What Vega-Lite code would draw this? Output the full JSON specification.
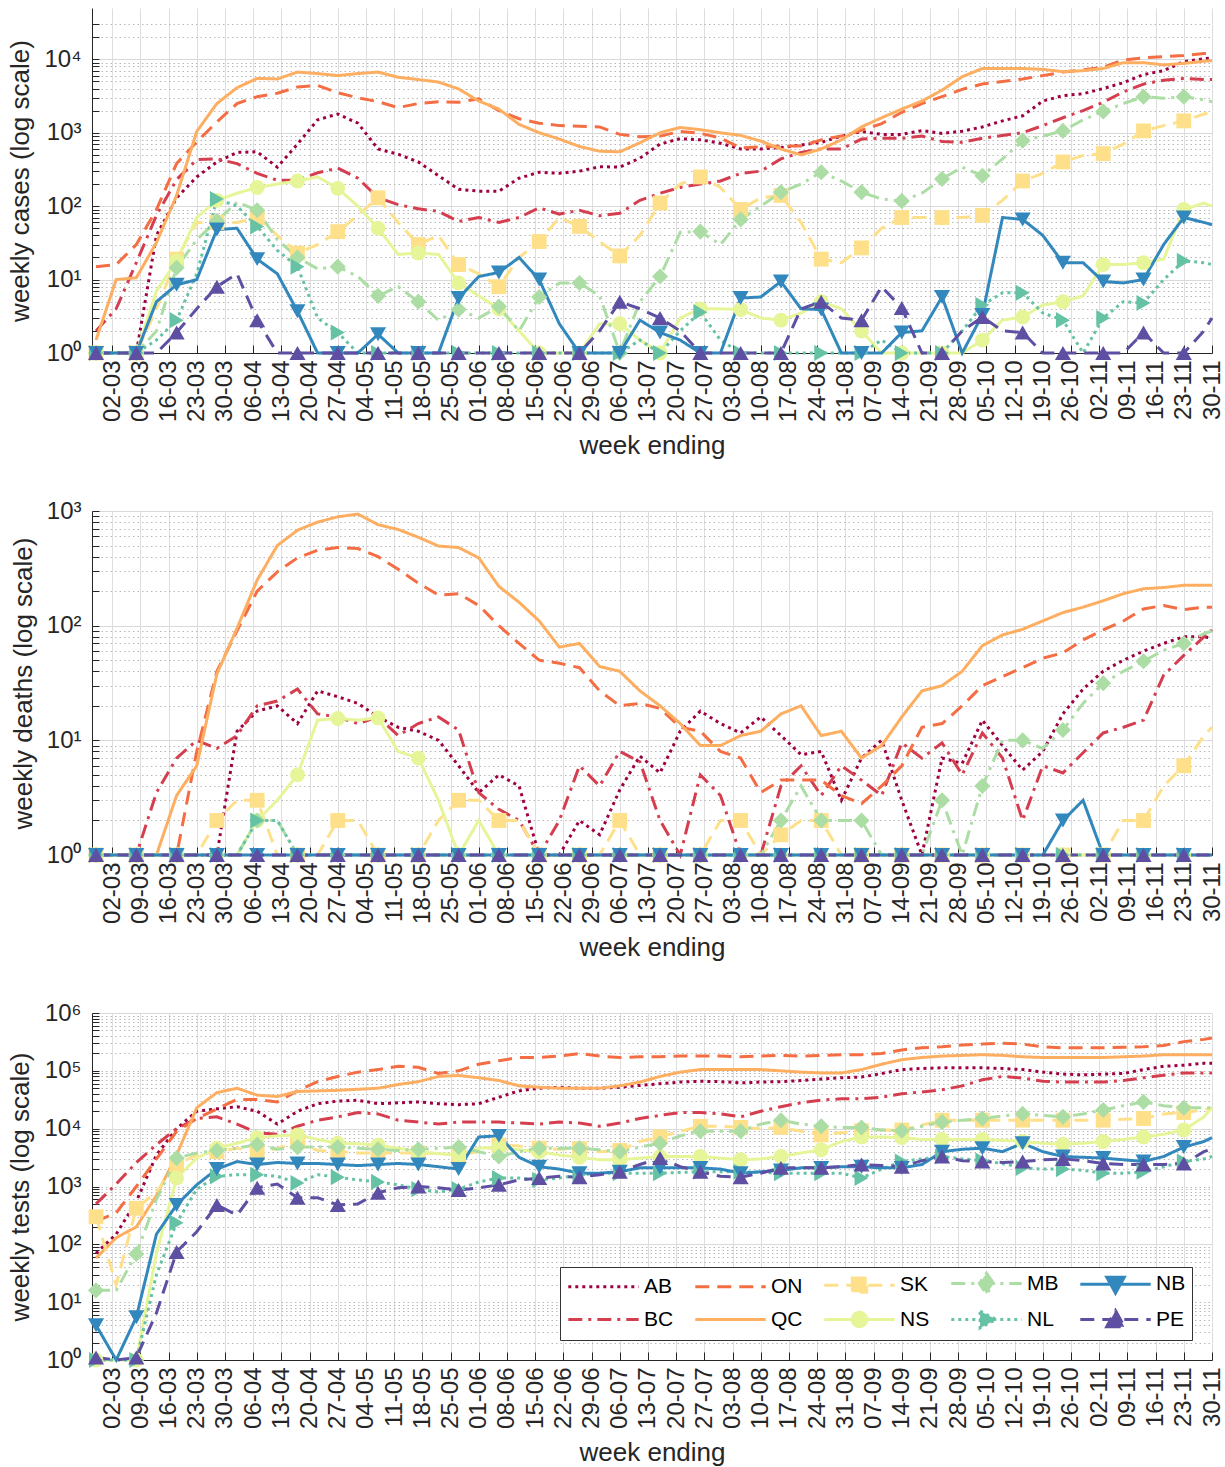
{
"$schema": "https://vega.github.io/schema/vega-lite/v6.json",
"padding": {"left": 7, "top": 8, "right": 6, "bottom": 4},
"spacing": 40,
"config": {
 "font": "Liberation Sans",
 "view": {"stroke": null},
 "axis": {"labelFont": "Liberation Sans", "titleFont": "Liberation Sans", "labelFontSize": 24, "titleFontSize": 26, "titleFontWeight": "normal", "labelColor": "#262626", "titleColor": "#262626", "domainColor": "#262626", "tickColor": "#262626", "domainWidth": 1, "tickWidth": 1, "grid": true}
},
"resolve": {"scale": {"color": "independent", "strokeDash": "independent", "shape": "independent"}, "legend": {"color": "independent", "strokeDash": "independent", "shape": "independent"}},
"datasets": {
"cases": [
{"d":"2020-02-27","AB":1,"BC":2,"ON":15,"QC":1.5,"SK":1,"NS":1,"MB":1,"NL":1,"NB":1,"PE":1},
{"d":"2020-03-03","AB":1,"BC":4,"ON":16,"QC":10,"SK":1,"NS":1,"MB":1,"NL":1,"NB":1,"PE":1},
{"d":"2020-03-08","AB":1,"BC":17,"ON":30,"QC":10.6,"SK":1,"NS":1,"MB":1,"NL":1,"NB":1,"PE":1},
{"d":"2020-03-13","AB":40,"BC":75,"ON":90,"QC":32,"SK":4,"NS":7,"MB":2,"NL":1.5,"NB":5,"PE":1},
{"d":"2020-03-18","AB":130,"BC":230,"ON":380,"QC":140,"SK":19,"NS":18,"MB":14.5,"NL":2.8,"NB":8.5,"PE":1.9},
{"d":"2020-03-23","AB":250,"BC":430,"ON":750,"QC":1040,"SK":60,"NS":70,"MB":35,"NL":12,"NB":10,"PE":4},
{"d":"2020-03-28","AB":400,"BC":440,"ON":1400,"QC":2500,"SK":60,"NS":120,"MB":63,"NL":125,"NB":48,"PE":8},
{"d":"2020-04-02","AB":540,"BC":380,"ON":2500,"QC":4100,"SK":60,"NS":150,"MB":113,"NL":100,"NB":50,"PE":12},
{"d":"2020-04-07","AB":550,"BC":280,"ON":3100,"QC":5500,"SK":70,"NS":180,"MB":88,"NL":53,"NB":19,"PE":2.8},
{"d":"2020-04-12","AB":340,"BC":225,"ON":3450,"QC":5400,"SK":40,"NS":200,"MB":35,"NL":25,"NB":12,"PE":1},
{"d":"2020-04-17","AB":700,"BC":225,"ON":4200,"QC":6700,"SK":23,"NS":220,"MB":20,"NL":15,"NB":3.7,"PE":1},
{"d":"2020-04-22","AB":1500,"BC":285,"ON":4400,"QC":6400,"SK":30,"NS":250,"MB":14,"NL":3,"NB":1,"PE":1},
{"d":"2020-04-27","AB":1800,"BC":330,"ON":3500,"QC":6000,"SK":45,"NS":175,"MB":15,"NL":1.9,"NB":1,"PE":1},
{"d":"2020-05-02","AB":1350,"BC":240,"ON":3000,"QC":6400,"SK":75,"NS":100,"MB":11,"NL":1,"NB":1,"PE":1},
{"d":"2020-05-07","AB":600,"BC":130,"ON":2650,"QC":6700,"SK":130,"NS":50,"MB":6,"NL":1,"NB":1.8,"PE":1},
{"d":"2020-05-12","AB":510,"BC":105,"ON":2200,"QC":5700,"SK":60,"NS":22,"MB":8,"NL":1,"NB":1,"PE":1},
{"d":"2020-05-17","AB":400,"BC":92,"ON":2500,"QC":5300,"SK":30,"NS":23,"MB":5,"NL":1,"NB":1,"PE":1},
{"d":"2020-05-22","AB":260,"BC":85,"ON":2650,"QC":4900,"SK":40,"NS":22,"MB":2.8,"NL":1,"NB":1,"PE":1},
{"d":"2020-05-27","AB":170,"BC":62,"ON":2600,"QC":3950,"SK":16,"NS":9,"MB":3.9,"NL":1,"NB":5.6,"PE":1},
{"d":"2020-06-01","AB":160,"BC":70,"ON":2900,"QC":2700,"SK":12,"NS":6,"MB":3,"NL":1,"NB":11,"PE":1},
{"d":"2020-06-06","AB":160,"BC":60,"ON":2000,"QC":2100,"SK":8,"NS":4,"MB":4.3,"NL":1,"NB":12.5,"PE":1},
{"d":"2020-06-11","AB":240,"BC":70,"ON":1550,"QC":1300,"SK":20,"NS":2,"MB":2,"NL":1,"NB":20,"PE":1},
{"d":"2020-06-16","AB":290,"BC":95,"ON":1350,"QC":1000,"SK":33,"NS":1,"MB":5.8,"NL":1,"NB":10,"PE":1},
{"d":"2020-06-21","AB":280,"BC":78,"ON":1250,"QC":820,"SK":70,"NS":1,"MB":9,"NL":1,"NB":2.5,"PE":1},
{"d":"2020-06-26","AB":300,"BC":88,"ON":1230,"QC":650,"SK":53,"NS":1,"MB":9,"NL":1,"NB":1,"PE":1},
{"d":"2020-07-01","AB":345,"BC":74,"ON":1200,"QC":560,"SK":33,"NS":2.5,"MB":6,"NL":1,"NB":1,"PE":2},
{"d":"2020-07-06","AB":340,"BC":80,"ON":950,"QC":550,"SK":21,"NS":2.5,"MB":1,"NL":1,"NB":1,"PE":5},
{"d":"2020-07-11","AB":450,"BC":120,"ON":880,"QC":730,"SK":40,"NS":1.5,"MB":5,"NL":1.5,"NB":2.8,"PE":4},
{"d":"2020-07-16","AB":700,"BC":150,"ON":900,"QC":1000,"SK":110,"NS":1,"MB":11,"NL":1,"NB":1.9,"PE":3},
{"d":"2020-07-21","AB":830,"BC":180,"ON":1040,"QC":1180,"SK":200,"NS":3,"MB":44,"NL":2,"NB":1.5,"PE":2},
{"d":"2020-07-26","AB":800,"BC":200,"ON":980,"QC":1100,"SK":250,"NS":4,"MB":45,"NL":3.6,"NB":1,"PE":1},
{"d":"2020-07-31","AB":720,"BC":220,"ON":850,"QC":1000,"SK":180,"NS":4,"MB":30,"NL":1.5,"NB":1,"PE":1},
{"d":"2020-08-05","AB":600,"BC":280,"ON":620,"QC":920,"SK":90,"NS":3.9,"MB":66,"NL":1,"NB":5.6,"PE":1},
{"d":"2020-08-10","AB":600,"BC":300,"ON":640,"QC":770,"SK":130,"NS":3,"MB":100,"NL":1,"NB":5.8,"PE":1},
{"d":"2020-08-15","AB":630,"BC":440,"ON":660,"QC":600,"SK":140,"NS":2.8,"MB":155,"NL":1,"NB":9.4,"PE":1},
{"d":"2020-08-20","AB":680,"BC":540,"ON":660,"QC":500,"SK":60,"NS":3.5,"MB":200,"NL":1,"NB":4,"PE":4},
{"d":"2020-08-25","AB":740,"BC":600,"ON":800,"QC":600,"SK":19,"NS":5,"MB":290,"NL":1,"NB":3.9,"PE":5},
{"d":"2020-08-30","AB":900,"BC":600,"ON":900,"QC":800,"SK":17,"NS":4,"MB":220,"NL":1,"NB":1,"PE":3},
{"d":"2020-09-04","AB":1040,"BC":820,"ON":1080,"QC":1200,"SK":27,"NS":2,"MB":155,"NL":1,"NB":1,"PE":2.8},
{"d":"2020-09-09","AB":950,"BC":840,"ON":1330,"QC":1600,"SK":50,"NS":1,"MB":125,"NL":1.5,"NB":1,"PE":8},
{"d":"2020-09-14","AB":950,"BC":840,"ON":1900,"QC":2100,"SK":70,"NS":1,"MB":118,"NL":1,"NB":1.9,"PE":4.1},
{"d":"2020-09-19","AB":1070,"BC":900,"ON":2500,"QC":2700,"SK":70,"NS":1,"MB":150,"NL":1,"NB":2,"PE":1},
{"d":"2020-09-24","AB":980,"BC":760,"ON":3100,"QC":3800,"SK":70,"NS":1,"MB":235,"NL":1,"NB":5.8,"PE":1},
{"d":"2020-09-29","AB":1050,"BC":740,"ON":3900,"QC":5800,"SK":70,"NS":1,"MB":340,"NL":2,"NB":1,"PE":2},
{"d":"2020-10-04","AB":1200,"BC":840,"ON":4600,"QC":7500,"SK":75,"NS":1.5,"MB":260,"NL":4.5,"NB":3.3,"PE":3.1},
{"d":"2020-10-09","AB":1450,"BC":920,"ON":5000,"QC":7500,"SK":120,"NS":2.8,"MB":440,"NL":6.6,"NB":70,"PE":2},
{"d":"2020-10-14","AB":1700,"BC":1000,"ON":5400,"QC":7500,"SK":220,"NS":3.1,"MB":780,"NL":6.6,"NB":66,"PE":1.9},
{"d":"2020-10-19","AB":2700,"BC":1250,"ON":6000,"QC":7300,"SK":280,"NS":4.5,"MB":900,"NL":3.5,"NB":40,"PE":1},
{"d":"2020-10-24","AB":3200,"BC":1600,"ON":6700,"QC":6800,"SK":400,"NS":5,"MB":1060,"NL":2.8,"NB":17,"PE":1},
{"d":"2020-10-29","AB":3400,"BC":2000,"ON":7200,"QC":7000,"SK":490,"NS":6,"MB":1500,"NL":1,"NB":17,"PE":1},
{"d":"2020-11-03","AB":4000,"BC":2600,"ON":7800,"QC":7500,"SK":520,"NS":16,"MB":1950,"NL":3,"NB":9.4,"PE":1},
{"d":"2020-11-08","AB":4800,"BC":3600,"ON":9800,"QC":9000,"SK":700,"NS":16,"MB":2500,"NL":5,"NB":9,"PE":1},
{"d":"2020-11-13","AB":6200,"BC":4600,"ON":10500,"QC":9000,"SK":1060,"NS":17,"MB":3100,"NL":4.8,"NB":10,"PE":1.9},
{"d":"2020-11-18","AB":7000,"BC":5200,"ON":10900,"QC":8400,"SK":1250,"NS":19,"MB":2950,"NL":10,"NB":30,"PE":1},
{"d":"2020-11-23","AB":9300,"BC":5500,"ON":11300,"QC":8800,"SK":1450,"NS":90,"MB":3100,"NL":18,"NB":70,"PE":1},
{"d":"2020-11-28","AB":10200,"BC":5300,"ON":12000,"QC":9400,"SK":1800,"NS":110,"MB":2800,"NL":17,"NB":60,"PE":2},
{"d":"2020-11-30","AB":10500,"BC":5300,"ON":12100,"QC":9600,"SK":1900,"NS":100,"MB":2650,"NL":16,"NB":56,"PE":3}
],
"deaths": [
{"d":"2020-02-27","AB":1,"BC":1,"ON":1,"QC":1,"SK":1,"NS":1,"MB":1,"NL":1,"NB":1,"PE":1},
{"d":"2020-03-03","AB":1,"BC":1,"ON":1,"QC":1,"SK":1,"NS":1,"MB":1,"NL":1,"NB":1,"PE":1},
{"d":"2020-03-08","AB":1,"BC":1,"ON":1,"QC":1,"SK":1,"NS":1,"MB":1,"NL":1,"NB":1,"PE":1},
{"d":"2020-03-13","AB":1,"BC":3.5,"ON":1,"QC":1,"SK":1,"NS":1,"MB":1,"NL":1,"NB":1,"PE":1},
{"d":"2020-03-18","AB":1,"BC":7,"ON":1,"QC":3.3,"SK":1,"NS":1,"MB":1,"NL":1,"NB":1,"PE":1},
{"d":"2020-03-23","AB":1,"BC":10,"ON":8,"QC":6,"SK":1,"NS":1,"MB":1,"NL":1,"NB":1,"PE":1},
{"d":"2020-03-28","AB":1,"BC":8.5,"ON":40,"QC":38,"SK":2,"NS":1,"MB":1,"NL":1,"NB":1,"PE":1},
{"d":"2020-04-02","AB":12,"BC":11,"ON":90,"QC":95,"SK":3,"NS":1,"MB":1,"NL":1,"NB":1,"PE":1},
{"d":"2020-04-07","AB":18,"BC":20,"ON":200,"QC":250,"SK":3,"NS":2,"MB":2,"NL":2,"NB":1,"PE":1},
{"d":"2020-04-12","AB":20,"BC":22,"ON":295,"QC":500,"SK":1,"NS":3,"MB":2,"NL":2,"NB":1,"PE":1},
{"d":"2020-04-17","AB":14,"BC":28,"ON":390,"QC":680,"SK":1,"NS":5,"MB":1,"NL":1,"NB":1,"PE":1},
{"d":"2020-04-22","AB":27,"BC":17,"ON":455,"QC":800,"SK":1,"NS":15,"MB":1,"NL":1,"NB":1,"PE":1},
{"d":"2020-04-27","AB":24,"BC":16,"ON":480,"QC":890,"SK":2,"NS":15.5,"MB":1,"NL":1,"NB":1,"PE":1},
{"d":"2020-05-02","AB":21,"BC":14,"ON":470,"QC":940,"SK":2,"NS":15,"MB":1,"NL":1,"NB":1,"PE":1},
{"d":"2020-05-07","AB":16,"BC":16,"ON":400,"QC":760,"SK":1,"NS":15.7,"MB":1,"NL":1,"NB":1,"PE":1},
{"d":"2020-05-12","AB":13,"BC":11,"ON":310,"QC":690,"SK":1,"NS":8,"MB":1,"NL":1,"NB":1,"PE":1},
{"d":"2020-05-17","AB":12,"BC":14,"ON":235,"QC":590,"SK":1,"NS":7,"MB":1,"NL":1,"NB":1,"PE":1},
{"d":"2020-05-22","AB":10,"BC":16,"ON":185,"QC":495,"SK":2,"NS":3,"MB":1,"NL":1,"NB":1,"PE":1},
{"d":"2020-05-27","AB":6,"BC":12.3,"ON":190,"QC":480,"SK":3,"NS":1,"MB":1,"NL":1,"NB":1,"PE":1},
{"d":"2020-06-01","AB":3.5,"BC":3.5,"ON":150,"QC":390,"SK":3,"NS":2,"MB":1,"NL":1,"NB":1,"PE":1},
{"d":"2020-06-06","AB":5,"BC":2.5,"ON":100,"QC":220,"SK":2,"NS":1,"MB":1,"NL":1,"NB":1,"PE":1},
{"d":"2020-06-11","AB":4,"BC":2,"ON":70,"QC":160,"SK":2,"NS":1,"MB":1,"NL":1,"NB":1,"PE":1},
{"d":"2020-06-16","AB":1,"BC":1,"ON":50,"QC":110,"SK":1,"NS":1,"MB":1,"NL":1,"NB":1,"PE":1},
{"d":"2020-06-21","AB":1,"BC":2,"ON":47,"QC":65,"SK":1,"NS":1,"MB":1,"NL":1,"NB":1,"PE":1},
{"d":"2020-06-26","AB":2,"BC":6,"ON":43,"QC":70,"SK":1,"NS":1,"MB":1,"NL":1,"NB":1,"PE":1},
{"d":"2020-07-01","AB":1.5,"BC":4,"ON":27,"QC":44,"SK":1,"NS":1,"MB":1,"NL":1,"NB":1,"PE":1},
{"d":"2020-07-06","AB":3.7,"BC":8,"ON":20,"QC":40,"SK":2,"NS":1,"MB":1,"NL":1,"NB":1,"PE":1},
{"d":"2020-07-11","AB":7.3,"BC":6.5,"ON":21,"QC":27,"SK":1,"NS":1,"MB":1,"NL":1,"NB":1,"PE":1},
{"d":"2020-07-16","AB":5.2,"BC":2,"ON":19,"QC":20,"SK":1,"NS":1,"MB":1,"NL":1,"NB":1,"PE":1},
{"d":"2020-07-21","AB":12,"BC":1,"ON":13,"QC":14,"SK":1,"NS":1,"MB":1,"NL":1,"NB":1,"PE":1},
{"d":"2020-07-26","AB":18,"BC":5,"ON":12,"QC":9,"SK":1,"NS":1,"MB":1,"NL":1,"NB":1,"PE":1},
{"d":"2020-07-31","AB":14,"BC":3.3,"ON":8,"QC":9,"SK":2,"NS":1,"MB":1,"NL":1,"NB":1,"PE":1},
{"d":"2020-08-05","AB":11.6,"BC":1,"ON":7,"QC":11,"SK":2,"NS":1,"MB":1,"NL":1,"NB":1,"PE":1},
{"d":"2020-08-10","AB":16,"BC":1,"ON":3.5,"QC":12,"SK":1,"NS":1,"MB":1,"NL":1,"NB":1,"PE":1},
{"d":"2020-08-15","AB":11,"BC":4,"ON":4.5,"QC":17,"SK":1.5,"NS":1,"MB":2,"NL":1,"NB":1,"PE":1},
{"d":"2020-08-20","AB":7.5,"BC":6,"ON":4.5,"QC":20,"SK":2,"NS":1,"MB":4,"NL":1,"NB":1,"PE":1},
{"d":"2020-08-25","AB":8,"BC":3.3,"ON":4.5,"QC":11,"SK":2,"NS":1,"MB":2,"NL":1,"NB":1,"PE":1},
{"d":"2020-08-30","AB":3,"BC":6,"ON":3.3,"QC":12,"SK":1,"NS":1,"MB":2,"NL":1,"NB":1,"PE":1},
{"d":"2020-09-04","AB":7,"BC":4.5,"ON":2.8,"QC":7,"SK":1,"NS":1,"MB":2,"NL":1,"NB":1,"PE":1},
{"d":"2020-09-09","AB":10,"BC":3.3,"ON":4,"QC":9,"SK":1,"NS":1,"MB":1,"NL":1,"NB":1,"PE":1},
{"d":"2020-09-14","AB":3,"BC":9.5,"ON":6,"QC":16,"SK":1,"NS":1,"MB":1,"NL":1,"NB":1,"PE":1},
{"d":"2020-09-19","AB":1,"BC":7,"ON":13,"QC":27,"SK":1,"NS":1,"MB":1,"NL":1,"NB":1,"PE":1},
{"d":"2020-09-24","AB":7,"BC":9.5,"ON":14,"QC":30,"SK":1,"NS":1,"MB":3,"NL":1,"NB":1,"PE":1},
{"d":"2020-09-29","AB":6.3,"BC":5,"ON":20,"QC":40,"SK":1,"NS":1,"MB":1,"NL":1,"NB":1,"PE":1},
{"d":"2020-10-04","AB":15,"BC":11.6,"ON":30,"QC":67,"SK":1,"NS":1,"MB":4,"NL":1,"NB":1,"PE":1},
{"d":"2020-10-09","AB":9,"BC":7,"ON":36,"QC":83,"SK":1,"NS":1,"MB":10,"NL":1,"NB":1,"PE":1},
{"d":"2020-10-14","AB":5.5,"BC":2,"ON":43,"QC":93,"SK":1,"NS":1,"MB":10,"NL":1,"NB":1,"PE":1},
{"d":"2020-10-19","AB":8,"BC":6,"ON":52,"QC":110,"SK":1,"NS":1,"MB":8.5,"NL":1,"NB":1,"PE":1},
{"d":"2020-10-24","AB":17,"BC":5.2,"ON":58,"QC":130,"SK":1,"NS":1,"MB":12.3,"NL":1,"NB":2,"PE":1},
{"d":"2020-10-29","AB":28,"BC":7.8,"ON":75,"QC":145,"SK":1,"NS":1,"MB":21,"NL":1,"NB":3,"PE":1},
{"d":"2020-11-03","AB":40,"BC":11.6,"ON":92,"QC":165,"SK":1,"NS":1,"MB":31.5,"NL":1,"NB":1,"PE":1},
{"d":"2020-11-08","AB":50,"BC":13,"ON":110,"QC":190,"SK":2,"NS":1,"MB":40,"NL":1,"NB":1,"PE":1},
{"d":"2020-11-13","AB":60,"BC":15,"ON":140,"QC":210,"SK":2,"NS":1,"MB":49,"NL":1,"NB":1,"PE":1},
{"d":"2020-11-18","AB":70,"BC":37,"ON":150,"QC":215,"SK":4,"NS":1,"MB":61,"NL":1,"NB":1,"PE":1},
{"d":"2020-11-23","AB":80,"BC":55,"ON":138,"QC":225,"SK":6,"NS":1,"MB":70,"NL":1,"NB":1,"PE":1},
{"d":"2020-11-28","AB":80,"BC":80,"ON":145,"QC":225,"SK":11,"NS":1,"MB":85,"NL":1,"NB":1,"PE":1},
{"d":"2020-11-30","AB":78,"BC":92,"ON":145,"QC":225,"SK":13,"NS":1,"MB":90,"NL":1,"NB":1,"PE":1}
],
"tests": [
{"d":"2020-02-27","AB":70,"BC":500,"ON":250,"QC":58,"SK":300,"NS":1,"MB":16,"NL":1,"NB":4,"PE":1.1},
{"d":"2020-03-03","AB":150,"BC":1100,"ON":350,"QC":130,"SK":20,"NS":1,"MB":16,"NL":1,"NB":1,"PE":1},
{"d":"2020-03-08","AB":550,"BC":2600,"ON":1000,"QC":200,"SK":420,"NS":1,"MB":68,"NL":1,"NB":5.5,"PE":1.1},
{"d":"2020-03-13","AB":3500,"BC":5300,"ON":3000,"QC":700,"SK":800,"NS":70,"MB":600,"NL":30,"NB":150,"PE":6.5},
{"d":"2020-03-18","AB":10000,"BC":10000,"ON":9000,"QC":3500,"SK":2400,"NS":1400,"MB":3100,"NL":235,"NB":480,"PE":74},
{"d":"2020-03-23","AB":20000,"BC":15000,"ON":15000,"QC":23000,"SK":3500,"NS":3100,"MB":3800,"NL":900,"NB":1070,"PE":165},
{"d":"2020-03-28","AB":22000,"BC":16000,"ON":22000,"QC":42000,"SK":4000,"NS":4600,"MB":4200,"NL":1500,"NB":2000,"PE":480},
{"d":"2020-04-02","AB":24000,"BC":12000,"ON":32000,"QC":50000,"SK":4600,"NS":5600,"MB":4600,"NL":1600,"NB":2700,"PE":320},
{"d":"2020-04-07","AB":20000,"BC":8500,"ON":32000,"QC":38000,"SK":4000,"NS":7000,"MB":5300,"NL":1600,"NB":2400,"PE":950},
{"d":"2020-04-12","AB":12000,"BC":8000,"ON":29000,"QC":36000,"SK":4500,"NS":7500,"MB":4400,"NL":1500,"NB":2600,"PE":1100},
{"d":"2020-04-17","AB":20000,"BC":11000,"ON":45000,"QC":44000,"SK":6000,"NS":7800,"MB":4800,"NL":1150,"NB":2500,"PE":640},
{"d":"2020-04-22","AB":27000,"BC":14000,"ON":65000,"QC":45000,"SK":4200,"NS":6500,"MB":4800,"NL":1600,"NB":2500,"PE":640},
{"d":"2020-04-27","AB":30000,"BC":16000,"ON":80000,"QC":46000,"SK":4000,"NS":5600,"MB":4800,"NL":1450,"NB":2400,"PE":480},
{"d":"2020-05-02","AB":31000,"BC":19000,"ON":95000,"QC":48000,"SK":3800,"NS":5500,"MB":4600,"NL":1300,"NB":2300,"PE":500},
{"d":"2020-05-07","AB":27000,"BC":18000,"ON":105000,"QC":50000,"SK":3800,"NS":5200,"MB":4400,"NL":1200,"NB":2400,"PE":780},
{"d":"2020-05-12","AB":28000,"BC":14000,"ON":120000,"QC":58000,"SK":3800,"NS":4600,"MB":4200,"NL":1070,"NB":2500,"PE":950},
{"d":"2020-05-17","AB":29000,"BC":13000,"ON":115000,"QC":65000,"SK":3800,"NS":4000,"MB":4400,"NL":900,"NB":2400,"PE":1000},
{"d":"2020-05-22","AB":27000,"BC":12000,"ON":90000,"QC":80000,"SK":3700,"NS":3700,"MB":4600,"NL":800,"NB":2200,"PE":950},
{"d":"2020-05-27","AB":26000,"BC":13000,"ON":100000,"QC":83000,"SK":3500,"NS":3500,"MB":4800,"NL":900,"NB":2000,"PE":870},
{"d":"2020-06-01","AB":27000,"BC":13000,"ON":130000,"QC":76000,"SK":4000,"NS":4600,"MB":4000,"NL":1200,"NB":7200,"PE":950},
{"d":"2020-06-06","AB":35000,"BC":13000,"ON":150000,"QC":68000,"SK":5200,"NS":4800,"MB":3300,"NL":1400,"NB":7500,"PE":1070},
{"d":"2020-06-11","AB":45000,"BC":12500,"ON":170000,"QC":55000,"SK":5000,"NS":4300,"MB":4000,"NL":1400,"NB":3200,"PE":1300},
{"d":"2020-06-16","AB":50000,"BC":12000,"ON":170000,"QC":52000,"SK":4600,"NS":4000,"MB":4600,"NL":1300,"NB":2200,"PE":1400},
{"d":"2020-06-21","AB":52000,"BC":13000,"ON":180000,"QC":50000,"SK":4400,"NS":3500,"MB":4600,"NL":1400,"NB":2000,"PE":1500},
{"d":"2020-06-26","AB":50000,"BC":12500,"ON":200000,"QC":50000,"SK":4500,"NS":3200,"MB":4600,"NL":1600,"NB":1700,"PE":1450},
{"d":"2020-07-01","AB":50000,"BC":11000,"ON":180000,"QC":50000,"SK":4000,"NS":2900,"MB":4300,"NL":1700,"NB":1700,"PE":1600},
{"d":"2020-07-06","AB":52000,"BC":12500,"ON":170000,"QC":55000,"SK":4200,"NS":2900,"MB":4000,"NL":1700,"NB":1800,"PE":1800},
{"d":"2020-07-11","AB":56000,"BC":15000,"ON":175000,"QC":64000,"SK":6000,"NS":3100,"MB":4800,"NL":1700,"NB":2100,"PE":2400},
{"d":"2020-07-16","AB":60000,"BC":17000,"ON":175000,"QC":80000,"SK":7200,"NS":3300,"MB":5600,"NL":1700,"NB":2100,"PE":3100},
{"d":"2020-07-21","AB":64000,"BC":19000,"ON":180000,"QC":95000,"SK":9000,"NS":3300,"MB":7500,"NL":1750,"NB":2100,"PE":2200},
{"d":"2020-07-26","AB":66000,"BC":19000,"ON":180000,"QC":105000,"SK":11000,"NS":3300,"MB":9000,"NL":1800,"NB":2100,"PE":1800},
{"d":"2020-07-31","AB":65000,"BC":18000,"ON":180000,"QC":105000,"SK":11000,"NS":3100,"MB":9000,"NL":1800,"NB":2000,"PE":1500},
{"d":"2020-08-05","AB":62000,"BC":16000,"ON":175000,"QC":105000,"SK":10500,"NS":2900,"MB":9000,"NL":1800,"NB":1700,"PE":1450},
{"d":"2020-08-10","AB":64000,"BC":20000,"ON":180000,"QC":105000,"SK":10000,"NS":3000,"MB":12000,"NL":1750,"NB":1800,"PE":1700},
{"d":"2020-08-15","AB":65000,"BC":24000,"ON":185000,"QC":100000,"SK":10500,"NS":3300,"MB":14000,"NL":1700,"NB":1900,"PE":2100},
{"d":"2020-08-20","AB":68000,"BC":28000,"ON":180000,"QC":95000,"SK":9000,"NS":3800,"MB":12000,"NL":1700,"NB":2100,"PE":2100},
{"d":"2020-08-25","AB":72000,"BC":31000,"ON":185000,"QC":92000,"SK":7800,"NS":4300,"MB":11000,"NL":1700,"NB":2100,"PE":2100},
{"d":"2020-08-30","AB":76000,"BC":33000,"ON":190000,"QC":92000,"SK":8500,"NS":6000,"MB":10500,"NL":1700,"NB":2200,"PE":2200},
{"d":"2020-09-04","AB":78000,"BC":33000,"ON":190000,"QC":105000,"SK":9200,"NS":7200,"MB":10500,"NL":1400,"NB":2200,"PE":2400},
{"d":"2020-09-09","AB":90000,"BC":35000,"ON":200000,"QC":130000,"SK":9500,"NS":7200,"MB":9500,"NL":2000,"NB":2100,"PE":2300},
{"d":"2020-09-14","AB":105000,"BC":40000,"ON":230000,"QC":156000,"SK":9500,"NS":7000,"MB":9200,"NL":2700,"NB":2100,"PE":2200},
{"d":"2020-09-19","AB":110000,"BC":43000,"ON":250000,"QC":170000,"SK":11500,"NS":6500,"MB":11000,"NL":3000,"NB":2400,"PE":2800},
{"d":"2020-09-24","AB":113000,"BC":47000,"ON":260000,"QC":180000,"SK":14000,"NS":6500,"MB":13000,"NL":3300,"NB":4000,"PE":3300},
{"d":"2020-09-29","AB":113000,"BC":55000,"ON":280000,"QC":185000,"SK":14000,"NS":6500,"MB":14000,"NL":3000,"NB":4400,"PE":2800},
{"d":"2020-10-04","AB":113000,"BC":70000,"ON":290000,"QC":190000,"SK":14000,"NS":6500,"MB":15000,"NL":2800,"NB":4600,"PE":2700},
{"d":"2020-10-09","AB":110000,"BC":80000,"ON":300000,"QC":185000,"SK":14000,"NS":6300,"MB":16500,"NL":2500,"NB":4000,"PE":2600},
{"d":"2020-10-14","AB":105000,"BC":75000,"ON":290000,"QC":175000,"SK":14000,"NS":6000,"MB":18000,"NL":2100,"NB":5600,"PE":2700},
{"d":"2020-10-19","AB":95000,"BC":66000,"ON":260000,"QC":170000,"SK":14000,"NS":5600,"MB":17000,"NL":2000,"NB":4000,"PE":2900},
{"d":"2020-10-24","AB":88000,"BC":64000,"ON":250000,"QC":170000,"SK":14000,"NS":5400,"MB":16000,"NL":2000,"NB":3300,"PE":3000},
{"d":"2020-10-29","AB":85000,"BC":64000,"ON":250000,"QC":170000,"SK":14000,"NS":5600,"MB":18000,"NL":1900,"NB":3200,"PE":2800},
{"d":"2020-11-03","AB":88000,"BC":64000,"ON":250000,"QC":170000,"SK":14000,"NS":6000,"MB":21000,"NL":1700,"NB":3100,"PE":2500},
{"d":"2020-11-08","AB":90000,"BC":68000,"ON":255000,"QC":175000,"SK":14500,"NS":6500,"MB":25000,"NL":1700,"NB":2900,"PE":2400},
{"d":"2020-11-13","AB":105000,"BC":76000,"ON":260000,"QC":180000,"SK":15000,"NS":7200,"MB":29000,"NL":1800,"NB":2700,"PE":2400},
{"d":"2020-11-18","AB":120000,"BC":84000,"ON":275000,"QC":190000,"SK":18000,"NS":8000,"MB":25000,"NL":2200,"NB":3300,"PE":2400},
{"d":"2020-11-23","AB":125000,"BC":92000,"ON":320000,"QC":190000,"SK":19000,"NS":9500,"MB":23000,"NL":2700,"NB":4800,"PE":2500},
{"d":"2020-11-28","AB":135000,"BC":92000,"ON":350000,"QC":190000,"SK":21000,"NS":16000,"MB":23000,"NL":3000,"NB":6000,"PE":4000},
{"d":"2020-11-30","AB":135000,"BC":92000,"ON":370000,"QC":190000,"SK":23000,"NS":23000,"MB":23000,"NL":3300,"NB":7000,"PE":4500}
]
},
"vconcat": [
{
 "width": 1120, "height": 345,
 "data": {"name": "cases"},
 "transform": [{"fold": ["AB","BC","ON","QC","SK","NS","MB","NL","NB","PE"], "as": ["p","v"]}],
 "encoding": {
  "x": {"field": "d", "type": "temporal", "scale": {"type": "utc", "domain": [1582675200000, 1606694400000]},
   "axis": {"title": "week ending", "values": [1583107200000,1583712000000,1584316800000,1584921600000,1585526400000,1586131200000,1586736000000,1587340800000,1587945600000,1588550400000,1589155200000,1589760000000,1590364800000,1590969600000,1591574400000,1592179200000,1592784000000,1593388800000,1593993600000,1594598400000,1595203200000,1595808000000,1596412800000,1597017600000,1597622400000,1598227200000,1598832000000,1599436800000,1600041600000,1600646400000,1601251200000,1601856000000,1602460800000,1603065600000,1603670400000,1604275200000,1604880000000,1605484800000,1606089600000,1606694400000], "format": "%d-%m", "labelAngle": -90, "labelOverlap": false, "labelFlush": false, "tickSize": -8, "labelPadding": 15, "gridColor": "#dedede", "titlePadding": 11}},
  "y": {"field": "v", "type": "quantitative", "scale": {"type": "log", "domain": [1, 50000], "nice": false},
   "axis": {"title": "weekly cases (log scale)", "values": [1,2,3,4,5,6,7,8,9,10,20,30,40,50,60,70,80,90,100,200,300,400,500,600,700,800,900,1000,2000,3000,4000,5000,6000,7000,8000,9000,10000,20000,30000], "labelExpr": "datum.value==1?'10⁰':datum.value==10?'10¹':datum.value==100?'10²':datum.value==1000?'10³':datum.value==10000?'10⁴':datum.value==100000?'10⁵':datum.value==1000000?'10⁶':''", "labelOverlap": false, "tickSize": -7, "labelPadding": 18, "titlePadding": 10,
    "gridDash": {"condition": {"test": "indexof([1,10,100,1000,10000,100000,1000000], datum.value) >= 0", "value": []}, "value": [1.5, 3]},
    "gridColor": {"condition": {"test": "indexof([1,10,100,1000,10000,100000,1000000], datum.value) >= 0", "value": "#d9d9d9"}, "value": "#b8b8b8"}}},
  "color": {"field": "p", "type": "nominal", "scale": {"domain": ["AB","BC","ON","QC","SK","NS","MB","NL","NB","PE"], "range": ["#9e0142","#d53e4f","#f46d43","#fdae61","#fee08b","#e6f598","#abdda4","#66c2a5","#3288bd","#5e4fa2"]}, "legend": null}
 },
 "layer": [
  {"mark": {"type": "line", "strokeWidth": 3},
   "encoding": {"strokeDash": {"field": "p", "type": "nominal", "scale": {"domain": ["AB","BC","ON","QC","SK","NS","MB","NL","NB","PE"], "range": [[3,4],[14,6,3,6],[14,8],[1,0],[14,8],[1,0],[14,6,3,6],[3,4],[1,0],[14,8]]}, "legend": null}}},
  {"transform": [{"filter": "datum.p=='SK' && (time(datum.d)-1582761600000)%864000000==0"}], "mark": {"type": "point", "shape": "square", "filled": true, "size": 220, "opacity": 1}},
  {"transform": [{"filter": "datum.p=='NS' && (time(datum.d)-1582761600000)%864000000==0"}], "mark": {"type": "point", "shape": "circle", "filled": true, "size": 220, "opacity": 1}},
  {"transform": [{"filter": "datum.p=='MB' && (time(datum.d)-1582761600000)%864000000==0"}], "mark": {"type": "point", "shape": "diamond", "filled": true, "size": 260, "opacity": 1}},
  {"transform": [{"filter": "datum.p=='NL' && (time(datum.d)-1582761600000)%864000000==0"}], "mark": {"type": "point", "shape": "triangle-right", "filled": true, "size": 260, "opacity": 1}},
  {"transform": [{"filter": "datum.p=='NB' && (time(datum.d)-1582761600000)%864000000==0"}], "mark": {"type": "point", "shape": "triangle-down", "filled": true, "size": 260, "opacity": 1}},
  {"transform": [{"filter": "datum.p=='PE' && (time(datum.d)-1582761600000)%864000000==0"}], "mark": {"type": "point", "shape": "triangle-up", "filled": true, "size": 260, "opacity": 1}}
 ]
},
{
 "width": 1120, "height": 344,
 "data": {"name": "deaths"},
 "transform": [{"fold": ["AB","BC","ON","QC","SK","NS","MB","NL","NB","PE"], "as": ["p","v"]}],
 "encoding": {
  "x": {"field": "d", "type": "temporal", "scale": {"type": "utc", "domain": [1582675200000, 1606694400000]},
   "axis": {"title": "week ending", "values": [1583107200000,1583712000000,1584316800000,1584921600000,1585526400000,1586131200000,1586736000000,1587340800000,1587945600000,1588550400000,1589155200000,1589760000000,1590364800000,1590969600000,1591574400000,1592179200000,1592784000000,1593388800000,1593993600000,1594598400000,1595203200000,1595808000000,1596412800000,1597017600000,1597622400000,1598227200000,1598832000000,1599436800000,1600041600000,1600646400000,1601251200000,1601856000000,1602460800000,1603065600000,1603670400000,1604275200000,1604880000000,1605484800000,1606089600000,1606694400000], "format": "%d-%m", "labelAngle": -90, "labelOverlap": false, "labelFlush": false, "tickSize": -8, "labelPadding": 15, "gridColor": "#dedede", "titlePadding": 11}},
  "y": {"field": "v", "type": "quantitative", "scale": {"type": "log", "domain": [1, 1000], "nice": false},
   "axis": {"title": "weekly deaths (log scale)", "values": [1,2,3,4,5,6,7,8,9,10,20,30,40,50,60,70,80,90,100,200,300,400,500,600,700,800,900,1000], "labelExpr": "datum.value==1?'10⁰':datum.value==10?'10¹':datum.value==100?'10²':datum.value==1000?'10³':datum.value==10000?'10⁴':datum.value==100000?'10⁵':datum.value==1000000?'10⁶':''", "labelOverlap": false, "tickSize": -7, "labelPadding": 18, "titlePadding": 10,
    "gridDash": {"condition": {"test": "indexof([1,10,100,1000,10000,100000,1000000], datum.value) >= 0", "value": []}, "value": [1.5, 3]},
    "gridColor": {"condition": {"test": "indexof([1,10,100,1000,10000,100000,1000000], datum.value) >= 0", "value": "#d9d9d9"}, "value": "#b8b8b8"}}},
  "color": {"field": "p", "type": "nominal", "scale": {"domain": ["AB","BC","ON","QC","SK","NS","MB","NL","NB","PE"], "range": ["#9e0142","#d53e4f","#f46d43","#fdae61","#fee08b","#e6f598","#abdda4","#66c2a5","#3288bd","#5e4fa2"]}, "legend": null}
 },
 "layer": [
  {"mark": {"type": "line", "strokeWidth": 3},
   "encoding": {"strokeDash": {"field": "p", "type": "nominal", "scale": {"domain": ["AB","BC","ON","QC","SK","NS","MB","NL","NB","PE"], "range": [[3,4],[14,6,3,6],[14,8],[1,0],[14,8],[1,0],[14,6,3,6],[3,4],[1,0],[14,8]]}, "legend": null}}},
  {"transform": [{"filter": "datum.p=='SK' && (time(datum.d)-1582761600000)%864000000==0"}], "mark": {"type": "point", "shape": "square", "filled": true, "size": 220, "opacity": 1}},
  {"transform": [{"filter": "datum.p=='NS' && (time(datum.d)-1582761600000)%864000000==0"}], "mark": {"type": "point", "shape": "circle", "filled": true, "size": 220, "opacity": 1}},
  {"transform": [{"filter": "datum.p=='MB' && (time(datum.d)-1582761600000)%864000000==0"}], "mark": {"type": "point", "shape": "diamond", "filled": true, "size": 260, "opacity": 1}},
  {"transform": [{"filter": "datum.p=='NL' && (time(datum.d)-1582761600000)%864000000==0"}], "mark": {"type": "point", "shape": "triangle-right", "filled": true, "size": 260, "opacity": 1}},
  {"transform": [{"filter": "datum.p=='NB' && (time(datum.d)-1582761600000)%864000000==0"}], "mark": {"type": "point", "shape": "triangle-down", "filled": true, "size": 260, "opacity": 1}},
  {"transform": [{"filter": "datum.p=='PE' && (time(datum.d)-1582761600000)%864000000==0"}], "mark": {"type": "point", "shape": "triangle-up", "filled": true, "size": 260, "opacity": 1}}
 ]
},
{
 "width": 1120, "height": 347,
 "data": {"name": "tests"},
 "transform": [{"fold": ["AB","BC","ON","QC","SK","NS","MB","NL","NB","PE"], "as": ["p","v"]}],
 "encoding": {
  "x": {"field": "d", "type": "temporal", "scale": {"type": "utc", "domain": [1582675200000, 1606694400000]},
   "axis": {"title": "week ending", "values": [1583107200000,1583712000000,1584316800000,1584921600000,1585526400000,1586131200000,1586736000000,1587340800000,1587945600000,1588550400000,1589155200000,1589760000000,1590364800000,1590969600000,1591574400000,1592179200000,1592784000000,1593388800000,1593993600000,1594598400000,1595203200000,1595808000000,1596412800000,1597017600000,1597622400000,1598227200000,1598832000000,1599436800000,1600041600000,1600646400000,1601251200000,1601856000000,1602460800000,1603065600000,1603670400000,1604275200000,1604880000000,1605484800000,1606089600000,1606694400000], "format": "%d-%m", "labelAngle": -90, "labelOverlap": false, "labelFlush": false, "tickSize": -8, "labelPadding": 15, "gridColor": "#dedede", "titlePadding": 11}},
  "y": {"field": "v", "type": "quantitative", "scale": {"type": "log", "domain": [1, 1000000], "nice": false},
   "axis": {"title": "weekly tests (log scale)", "values": [1,2,3,4,5,6,7,8,9,10,20,30,40,50,60,70,80,90,100,200,300,400,500,600,700,800,900,1000,2000,3000,4000,5000,6000,7000,8000,9000,10000,20000,30000,40000,50000,60000,70000,80000,90000,100000,200000,300000,400000,500000,600000,700000,800000,900000,1000000], "labelExpr": "datum.value==1?'10⁰':datum.value==10?'10¹':datum.value==100?'10²':datum.value==1000?'10³':datum.value==10000?'10⁴':datum.value==100000?'10⁵':datum.value==1000000?'10⁶':''", "labelOverlap": false, "tickSize": -7, "labelPadding": 18, "titlePadding": 10,
    "gridDash": {"condition": {"test": "indexof([1,100,10000,1000000], datum.value) >= 0", "value": []}, "value": [1.5, 3]},
    "gridColor": {"condition": {"test": "indexof([1,100,10000,1000000], datum.value) >= 0", "value": "#d9d9d9"}, "value": "#b8b8b8"}}},
  "color": {"field": "p", "type": "nominal", "scale": {"domain": ["AB","BC","ON","QC","SK","NS","MB","NL","NB","PE"], "range": ["#9e0142","#d53e4f","#f46d43","#fdae61","#fee08b","#e6f598","#abdda4","#66c2a5","#3288bd","#5e4fa2"]},
   "legend": {"title": null, "orient": "bottom-right", "offset": 20, "columns": 5, "symbolSize": 256, "symbolStrokeWidth": 3, "symbolOffset": 27, "labelOffset": 30, "labelFontSize": 21, "labelFont": "Liberation Sans", "labelColor": "#000000", "fillColor": "#ffffff", "strokeColor": "#333333", "padding": 6, "columnPadding": 15, "rowPadding": 4, "symbolLimit": 0}}
 },
 "layer": [
  {"mark": {"type": "line", "strokeWidth": 3},
   "encoding": {"strokeDash": {"field": "p", "type": "nominal", "scale": {"domain": ["AB","BC","ON","QC","SK","NS","MB","NL","NB","PE"], "range": [[3,4],[14,6,3,6],[14,8],[1,0],[14,8],[1,0],[14,6,3,6],[3,4],[1,0],[14,8]]},
    "legend": {"title": null, "orient": "bottom-right", "offset": 20, "columns": 5, "symbolSize": 256, "symbolStrokeWidth": 3, "symbolOffset": 27, "labelOffset": 30, "labelFontSize": 21, "labelFont": "Liberation Sans", "labelColor": "#000000", "fillColor": "#ffffff", "strokeColor": "#333333", "padding": 6, "columnPadding": 15, "rowPadding": 4, "symbolLimit": 0}}}},
  {"transform": [{"filter": "datum.p=='SK' && (time(datum.d)-1582761600000)%864000000==0"}], "mark": {"type": "point", "shape": "square", "filled": true, "size": 220, "opacity": 1}},
  {"transform": [{"filter": "datum.p=='NS' && (time(datum.d)-1582761600000)%864000000==0"}], "mark": {"type": "point", "shape": "circle", "filled": true, "size": 220, "opacity": 1}},
  {"transform": [{"filter": "datum.p=='MB' && (time(datum.d)-1582761600000)%864000000==0"}], "mark": {"type": "point", "shape": "diamond", "filled": true, "size": 260, "opacity": 1}},
  {"transform": [{"filter": "datum.p=='NL' && (time(datum.d)-1582761600000)%864000000==0"}], "mark": {"type": "point", "shape": "triangle-right", "filled": true, "size": 260, "opacity": 1}},
  {"transform": [{"filter": "datum.p=='NB' && (time(datum.d)-1582761600000)%864000000==0"}], "mark": {"type": "point", "shape": "triangle-down", "filled": true, "size": 260, "opacity": 1}},
  {"transform": [{"filter": "datum.p=='PE' && (time(datum.d)-1582761600000)%864000000==0"}], "mark": {"type": "point", "shape": "triangle-up", "filled": true, "size": 260, "opacity": 1}},
  {"transform": [{"filter": "false"}], "mark": {"type": "point", "filled": true, "opacity": 1, "strokeWidth": 3},
   "encoding": {"shape": {"field": "p", "type": "nominal", "scale": {"domain": ["AB","BC","ON","QC","SK","NS","MB","NL","NB","PE"], "range": ["M-4.4,0H4.4","M-4.4,0H4.4","M-4.4,0H4.4","M-4.4,0H4.4","M-4.4,0H4.4M-0.9,-0.9H0.9V0.9H-0.9Z","M-4.4,0H4.4M-0.9,0A0.9,0.9,0,1,0,0.9,0A0.9,0.9,0,1,0,-0.9,0Z","M-4.4,0H4.4M0,-1.3L0.9,0L0,1.3L-0.9,0Z","M-4.4,0H4.4M-0.8,-1.05L1.2,0L-0.8,1.05Z","M-4.4,0H4.4M-1.1,-0.9H1.1L0,1.1Z","M-4.4,0H4.4M-1.1,0.9H1.1L0,-1.1Z"]},
    "legend": {"title": null, "orient": "bottom-right", "offset": 20, "columns": 5, "symbolSize": 256, "symbolStrokeWidth": 3, "symbolOffset": 27, "labelOffset": 30, "labelFontSize": 21, "labelFont": "Liberation Sans", "labelColor": "#000000", "fillColor": "#ffffff", "strokeColor": "#333333", "padding": 6, "columnPadding": 15, "rowPadding": 4, "symbolLimit": 0}}}}
 ]
}
]
}
